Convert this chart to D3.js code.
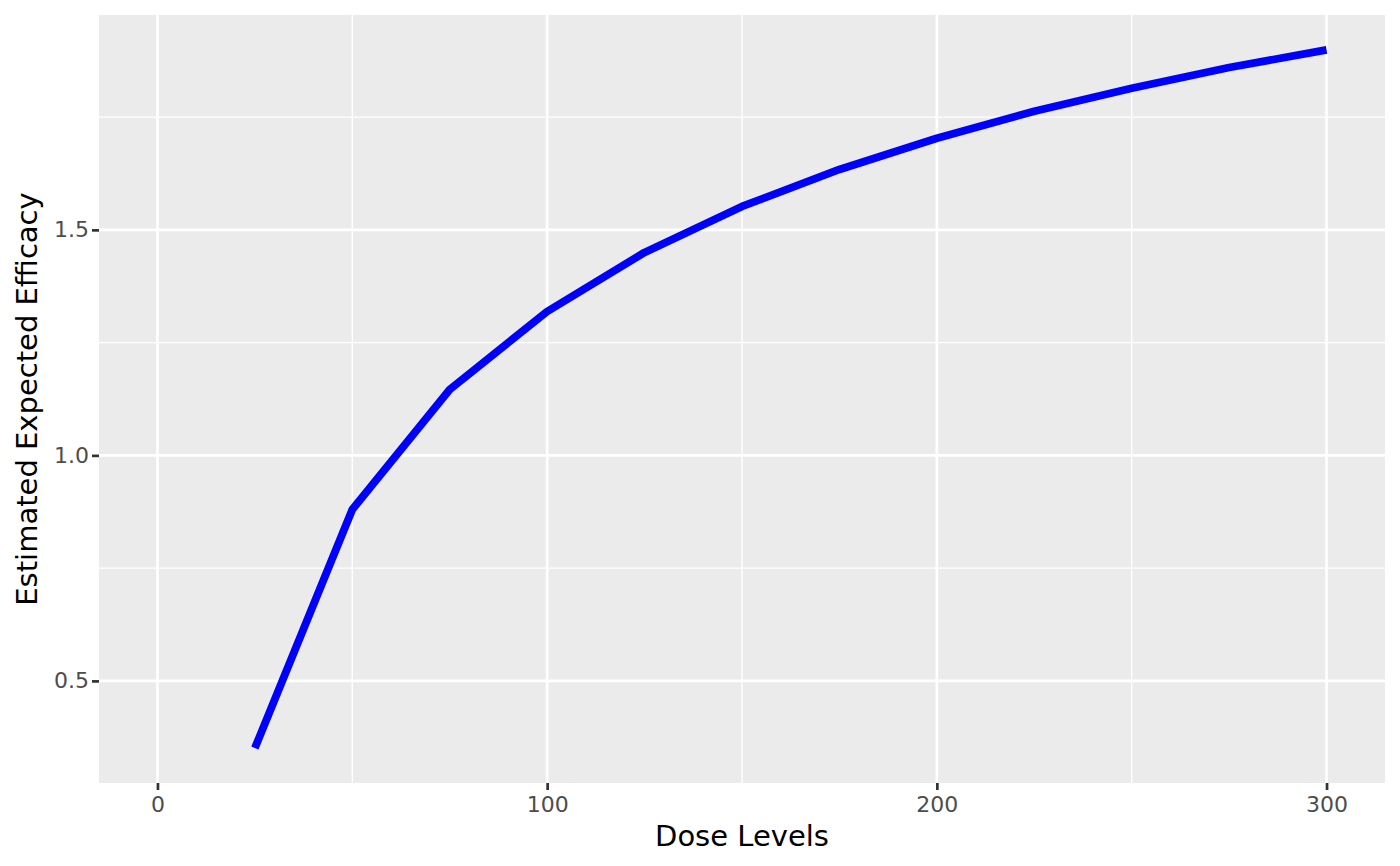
<!DOCTYPE html>
<html>
<head>
<meta charset="utf-8">
<title>Estimated Expected Efficacy</title>
<script src="https://cdn.jsdelivr.net/npm/d3@7"></script>
<style>
body { margin: 0; background: #fff; }
svg { display: block; font-family: "DejaVu Sans", sans-serif; }
.grid-major { stroke: #fff; stroke-width: 2.7px; }
.grid-minor { stroke: #fff; stroke-width: 1.4px; }
.tick-label { fill: #4d4d4d; font-size: 22px; }
.axis-title { fill: #000; font-size: 29px; }
</style>
</head>
<body>
<script>
// dose levels and estimated expected efficacy
var doses = [25, 50, 75, 100, 125, 150, 175, 200, 225, 250, 275, 300];
var efficacy = [0.351, 0.880, 1.146, 1.319, 1.450, 1.552, 1.634, 1.703, 1.763, 1.814, 1.860, 1.899];
var xTicks = [0, 100, 200, 300];
var xMinor = [50, 150, 250];
var yTicks = [0.5, 1.0, 1.5];
var yMinor = [0.75, 1.25, 1.75];

var width = 1400, height = 866;
var margin = {top: 15, right: 15, bottom: 83, left: 99};

var svg = d3.select("body").append("svg")
    .attr("width", width)
    .attr("height", height);

// ggplot style 5% expansion
function expand(ext) {
  var d = (ext[1] - ext[0]) * 0.05;
  return [ext[0] - d, ext[1] + d];
}

var x = d3.scaleLinear()
    .domain(expand([0, d3.max(doses)]))
    .range([margin.left, width - margin.right]);

var y = d3.scaleLinear()
    .domain(expand(d3.extent(efficacy)))
    .range([height - margin.bottom, margin.top]);

var x0 = margin.left, x1 = width - margin.right,
    y0 = height - margin.bottom, y1 = margin.top;

// panel
svg.append("rect")
    .attr("x", x0).attr("y", y1)
    .attr("width", x1 - x0).attr("height", y0 - y1)
    .attr("fill", "#ebebeb");

svg.selectAll(".gx-minor").data(xMinor).enter().append("line")
    .attr("class", "grid-minor")
    .attr("x1", x).attr("x2", x).attr("y1", y0).attr("y2", y1);
svg.selectAll(".gy-minor").data(yMinor).enter().append("line")
    .attr("class", "grid-minor")
    .attr("y1", y).attr("y2", y).attr("x1", x0).attr("x2", x1);
svg.selectAll(".gx-major").data(xTicks).enter().append("line")
    .attr("class", "grid-major")
    .attr("x1", x).attr("x2", x).attr("y1", y0).attr("y2", y1);
svg.selectAll(".gy-major").data(yTicks).enter().append("line")
    .attr("class", "grid-major")
    .attr("y1", y).attr("y2", y).attr("x1", x0).attr("x2", x1);

// the curve
var line = d3.line()
    .x(function(d, i) { return x(doses[i]); })
    .y(function(d) { return y(d); });

svg.append("path")
    .datum(efficacy)
    .attr("d", line)
    .attr("fill", "none")
    .attr("stroke", "#0000ff")
    .attr("stroke-width", 7.8)
    .attr("stroke-linejoin", "round")
    .attr("stroke-linecap", "butt");

// axes
var xAxis = svg.append("g")
    .attr("transform", "translate(0," + y0 + ")")
    .call(d3.axisBottom(x).tickValues(xTicks).tickSize(7).tickPadding(4).tickFormat(d3.format("d")));
var yAxis = svg.append("g")
    .attr("transform", "translate(" + x0 + ",0)")
    .call(d3.axisLeft(y).tickValues(yTicks).tickSize(7).tickPadding(4).tickFormat(d3.format(".1f")));

[xAxis, yAxis].forEach(function(a) {
  a.select(".domain").remove();
  a.selectAll(".tick line").attr("stroke", "#333").attr("stroke-width", 2.7);
  a.selectAll(".tick text").attr("class", "tick-label").attr("fill", null).style("font-size", null).style("font-family", null);
  a.attr("font-size", null).attr("font-family", null);
});
xAxis.selectAll(".tick text").attr("dy", "0.71em").attr("y", 13);
yAxis.selectAll(".tick text").attr("x", -10);

svg.append("text")
    .attr("class", "axis-title")
    .attr("x", (x0 + x1) / 2)
    .attr("y", 846)
    .attr("text-anchor", "middle")
    .text("Dose Levels");

svg.append("text")
    .attr("class", "axis-title")
    .attr("transform", "translate(37," + (y0 + y1) / 2 + ")rotate(-90)")
    .attr("text-anchor", "middle")
    .text("Estimated Expected Efficacy");
</script>
</body>
</html>
